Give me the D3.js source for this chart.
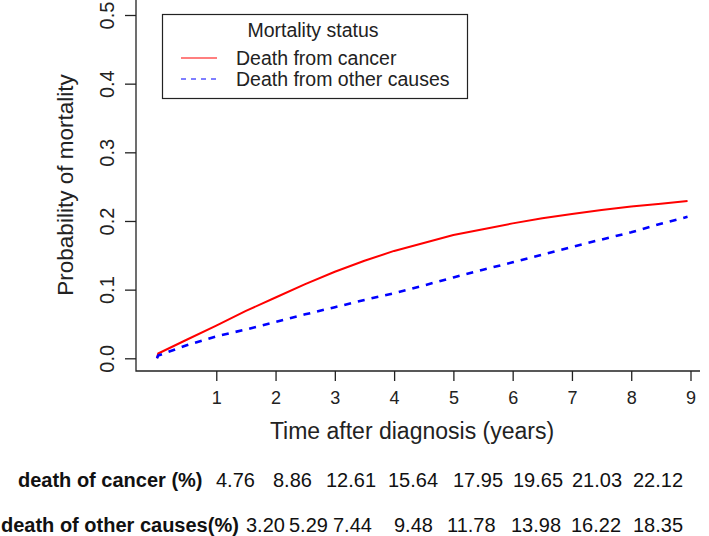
<!DOCTYPE html>
<html>
<head>
<meta charset="utf-8">
<script src="https://cdn.jsdelivr.net/npm/d3@7"></script>
<style>
  body { margin: 0; background: #fff; }
  svg { display: block; font-family: 'Liberation Sans', Arial, sans-serif; }
</style>
</head>
<body>
<div id="chart"></div>
<script>
// years after diagnosis
const years = [0, 0.02, 0.5, 1, 1.5, 2, 2.5, 3, 3.5, 4, 4.5, 5, 5.5, 6, 6.5, 7, 7.5, 8, 8.5, 8.95];
const cancerProb = [0, 0.007, 0.027, 0.0476, 0.069, 0.0886, 0.108, 0.1261, 0.142, 0.1564, 0.168,
  0.1795, 0.188, 0.1965, 0.204, 0.2103, 0.216, 0.2212, 0.225, 0.229];
const otherProb = [0, 0.004, 0.019, 0.032, 0.042, 0.0529, 0.064, 0.0744, 0.085, 0.0948, 0.106,
  0.1178, 0.129, 0.1398, 0.151, 0.1622, 0.173, 0.1835, 0.196, 0.206];

const xTicks = [1, 2, 3, 4, 5, 6, 7, 8, 9];
const yTicks = [0, 0.1, 0.2, 0.3, 0.4, 0.5];

const seriesNames = ['Death from cancer', 'Death from other causes'];
const seriesColors = ['#ff0000', '#0000ff'];

const tableLabels = ['death of cancer (%)', 'death of other causes(%)'];
const cancerPct = [4.76, 8.86, 12.61, 15.64, 17.95, 19.65, 21.03, 22.12];
const otherPct = [3.20, 5.29, 7.44, 9.48, 11.78, 13.98, 16.22, 18.35];

const width = 709;
const height = 536;
const axisColor = '#222';

const svg = d3.select('#chart')
  .append('svg')
  .attr('width', width)
  .attr('height', height);

const x = d3.scaleLinear()
  .domain([0, 9])
  .range([157, 690.5]);

const y = d3.scaleLinear()
  .domain([0, 0.5])
  .range([358.3, 15]);

const frameLeft = 136;
const frameBottom = 371;

// L-shaped frame
svg.append('path')
  .attr('d', `M${frameLeft},0V${frameBottom}H700`)
  .attr('fill', 'none')
  .attr('stroke', axisColor)
  .attr('stroke-width', 1.3);

// y axis
const yAxis = svg.append('g')
  .attr('transform', `translate(${frameLeft},0)`)
  .call(d3.axisLeft(y)
    .tickValues(yTicks)
    .tickFormat(d3.format('.1f'))
    .tickSize(11));
yAxis.select('.domain').remove();
yAxis.selectAll('line').attr('stroke', axisColor).attr('stroke-width', 1.3);
yAxis.selectAll('text')
  .attr('transform', 'rotate(-90)')
  .attr('x', 0)
  .attr('y', -22)
  .attr('dy', 0)
  .attr('text-anchor', 'middle')
  .attr('fill', axisColor)
  .style('font-size', '20px')
  .style('font-family', 'Liberation Sans, Arial, sans-serif');

// x axis
const xAxis = svg.append('g')
  .attr('transform', `translate(0,${frameBottom})`)
  .call(d3.axisBottom(x)
    .tickValues(xTicks)
    .tickFormat(d3.format('d'))
    .tickSize(10));
xAxis.select('.domain').remove();
xAxis.selectAll('line').attr('stroke', axisColor).attr('stroke-width', 1.3);
xAxis.selectAll('text')
  .attr('y', 33)
  .attr('dy', 0)
  .attr('fill', axisColor)
  .style('font-size', '18px')
  .style('font-family', 'Liberation Sans, Arial, sans-serif');

// axis titles
svg.append('text')
  .attr('x', 412)
  .attr('y', 439)
  .attr('text-anchor', 'middle')
  .attr('fill', axisColor)
  .style('font-size', '23px')
  .text('Time after diagnosis (years)');

svg.append('text')
  .attr('transform', 'translate(73,185) rotate(-90)')
  .attr('text-anchor', 'middle')
  .attr('fill', axisColor)
  .style('font-size', '22.5px')
  .text('Probability of mortality');

// curves
const line = d3.line()
  .x(d => x(d[0]))
  .y(d => y(d[1]));

svg.append('path')
  .datum(years.map((t, i) => [t, cancerProb[i]]))
  .attr('fill', 'none')
  .attr('stroke', seriesColors[0])
  .attr('stroke-width', 2)
  .attr('stroke-linejoin', 'round')
  .attr('d', line);

svg.append('path')
  .datum(years.map((t, i) => [t, otherProb[i]]))
  .attr('fill', 'none')
  .attr('stroke', seriesColors[1])
  .attr('stroke-width', 2.6)
  .attr('stroke-dasharray', '7,7')
  .attr('d', line);

// legend
const legend = svg.append('g');
legend.append('rect')
  .attr('x', 162.5)
  .attr('y', 14.5)
  .attr('width', 305)
  .attr('height', 84)
  .attr('fill', '#fff')
  .attr('stroke', axisColor)
  .attr('stroke-width', 1.2);

legend.append('text')
  .attr('x', 313)
  .attr('y', 37)
  .attr('text-anchor', 'middle')
  .attr('fill', axisColor)
  .style('font-size', '19.5px')
  .text('Mortality status');

const items = legend.selectAll('.item')
  .data(seriesNames)
  .enter()
  .append('g')
  .attr('transform', (d, i) => `translate(0,${58 + i * 21})`);

items.append('line')
  .attr('x1', 181)
  .attr('x2', 217)
  .attr('stroke', (d, i) => seriesColors[i])
  .attr('stroke-width', 1.2)
  .attr('stroke-dasharray', (d, i) => (i === 0 ? null : '5,5'));

items.append('text')
  .attr('x', 236)
  .attr('y', 7)
  .attr('fill', axisColor)
  .style('font-size', '19.5px')
  .text(d => d);

// table under the chart
const colStarts = [
  [216, 273, 326, 388, 453, 513, 572, 633],
  [246, 289, 333, 394, 447, 511, 571, 633],
];
const rowLabelX = [18, 1];
const rowBaseline = [487, 532];
const fmt = d3.format('.2f');

[cancerPct, otherPct].forEach((vals, r) => {
  const row = svg.append('g').attr('transform', `translate(0,${rowBaseline[r]})`);
  row.append('text')
    .attr('x', rowLabelX[r])
    .attr('fill', '#111')
    .attr('font-weight', 'bold')
    .style('font-size', '20px')
    .text(tableLabels[r]);
  row.selectAll('.val')
    .data(vals)
    .enter()
    .append('text')
    .attr('x', (d, i) => colStarts[r][i])
    .attr('fill', '#111')
    .style('font-size', '20px')
    .text(d => fmt(d));
});
</script>
</body>
</html>
